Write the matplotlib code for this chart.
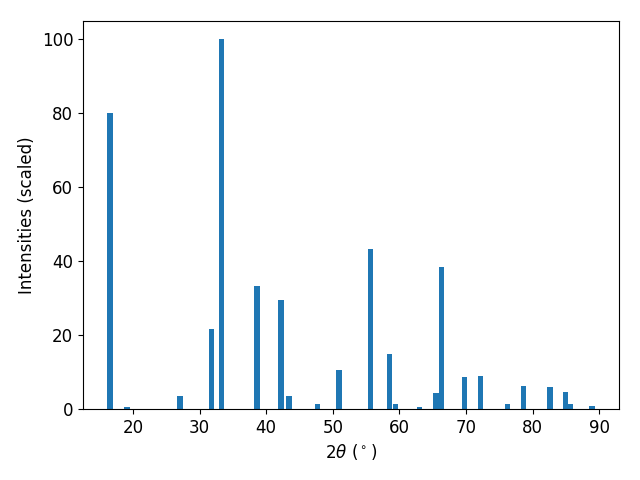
import matplotlib
matplotlib.use("Agg")
import matplotlib.pyplot as plt

two_theta = [16.55, 19.1, 27.05, 31.8, 33.3, 38.6, 42.2, 43.4, 47.7, 50.9,
             55.7, 58.5, 59.4, 63.0, 65.5, 66.3, 69.8, 72.2, 76.25, 78.65,
             82.6, 84.95, 85.7, 88.9]
intensity = [80.2, 0.5, 3.5, 21.7, 100.0, 33.3, 29.5, 3.5, 1.4, 10.6,
             43.4, 14.9, 1.4, 0.5, 4.3, 38.5, 8.7, 8.9, 1.4, 6.2,
             6.0, 4.6, 1.4, 0.8]

plt.rcParams['font.size'] = 12
fig, ax = plt.subplots(figsize=(6.4, 4.8), dpi=100)
ax.bar(two_theta, intensity, width=0.8)
ax.set_xlabel(r'2$\theta$ ($^\circ$)')
ax.set_ylabel('Intensities (scaled)')
fig.subplots_adjust(left=83/640, right=619/640, top=1-21/480, bottom=1-409/480)
fig.savefig('out.png')
